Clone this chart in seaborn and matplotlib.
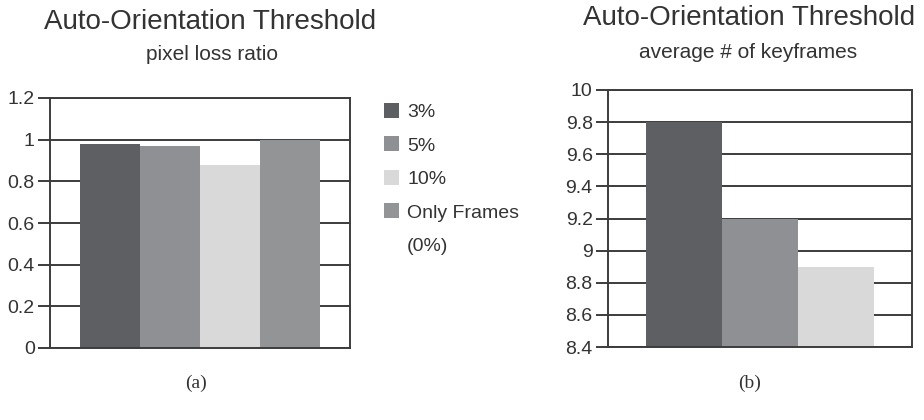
import matplotlib
matplotlib.use("Agg")
import matplotlib.pyplot as plt
import seaborn as sns
import pandas as pd
from matplotlib.patches import Patch

# ---- data ----
series_a = ["3%", "5%", "10%", "Only Frames"]
values_a = [0.98, 0.97, 0.88, 1.0]
series_b = ["3%", "5%", "10%"]
values_b = [9.8, 9.2, 8.9]
yticks_a = [0, 0.2, 0.4, 0.6, 0.8, 1, 1.2]
yticks_b = [8.4, 8.6, 8.8, 9, 9.2, 9.4, 9.6, 9.8, 10]
colors = {"3%": "#5e5f63", "5%": "#8e9093", "10%": "#d9d9da", "Only Frames": "#929496"}

sns.set_style("white")
plt.rcParams["font.family"] = ["Liberation Sans", "DejaVu Sans"]
TXT = "#333333"
LINE = "#3c3c3c"

fig = plt.figure(figsize=(9.24, 4.2), dpi=100)
ax1 = fig.add_axes([50/924, 1-348/420, 300/924, 250/420])
ax2 = fig.add_axes([608/924, 1-347/420, 304/924, 257/420])

df_a = pd.DataFrame({"g": ["a"]*4, "series": series_a, "value": values_a})
df_b = pd.DataFrame({"g": ["b"]*3, "series": series_b, "value": values_b})

sns.barplot(data=df_a, x="g", y="value", hue="series", hue_order=series_a,
            palette=colors, width=0.8, saturation=1, ax=ax1, legend=False, linewidth=0)
sns.barplot(data=df_b, x="g", y="value", hue="series", hue_order=series_b,
            palette=colors, width=0.75, saturation=1, ax=ax2, legend=False, linewidth=0)

def style(ax, ticks, lo, hi, fmt):
    ax.set_ylim(lo, hi)
    ax.set_yticks(ticks)
    ax.set_yticklabels([fmt(t) for t in ticks], fontsize=14, color=TXT)
    ax.set_xticks([])
    ax.set_xlabel("")
    ax.set_ylabel("")
    ax.set_xlim(-0.5, 0.5)
    ax.set_axisbelow(True)
    ax.yaxis.grid(True, color=LINE, linewidth=1.4)
    ax.tick_params(axis="y", length=9, width=1.4, color=LINE, direction="out", left=True, pad=2)
    for s in ax.spines.values():
        s.set_visible(True)
        s.set_color(LINE)
        s.set_linewidth(1.4)

style(ax1, yticks_a, 0, 1.2, lambda t: f"{t:g}")
style(ax2, yticks_b, 8.4, 10, lambda t: f"{t:g}")

fig.text(210/924, 1-22/420, "Auto-Orientation Threshold", ha="center", va="center", fontsize=20, color=TXT)
fig.text(212/924, 1-55/420, "pixel loss ratio", ha="center", va="center", fontsize=15, color=TXT)
fig.text(749/924, 1-18/420, "Auto-Orientation Threshold", ha="center", va="center", fontsize=20, color=TXT)
fig.text(748/924, 1-52/420, "average # of keyframes", ha="center", va="center", fontsize=15, color=TXT)
fig.text(196/924, 1-383/420, "(a)", ha="center", va="center", fontsize=14, color=TXT,
         family=["Liberation Serif", "DejaVu Serif"])
fig.text(750/924, 1-383/420, "(b)", ha="center", va="center", fontsize=14, color=TXT,
         family=["Liberation Serif", "DejaVu Serif"])

handles = [Patch(facecolor=colors[s], edgecolor="none") for s in series_a]
handles.append(Patch(facecolor="none", edgecolor="none"))
labels = series_a + ["(0%)"]
leg = fig.legend(handles, labels, loc="upper left", bbox_to_anchor=(376/924, 1-95/420),
                 frameon=False, fontsize=14, handlelength=0.8, handleheight=0.8,
                 handletextpad=0.4, labelspacing=0.79, borderaxespad=0)
for t in leg.get_texts():
    t.set_color(TXT)

fig.savefig("out.png", dpi=100)
